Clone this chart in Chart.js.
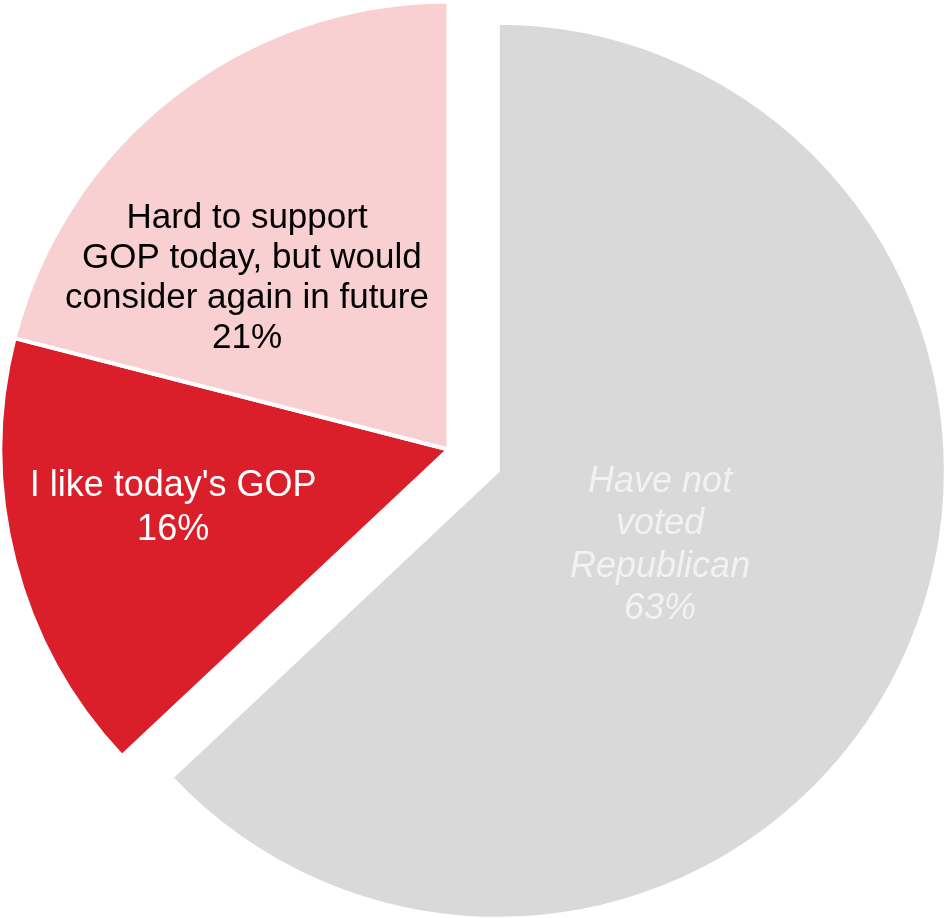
<!DOCTYPE html>
<html>
<head>
<meta charset="utf-8">
<script src="https://cdn.jsdelivr.net/npm/chart.js@4/dist/chart.umd.min.js"></script>
<style>
  html, body { margin: 0; padding: 0; background: #ffffff; }
  #wrap { width: 949px; height: 918px; position: relative; }
</style>
</head>
<body>
<div id="wrap"><canvas id="c" width="949" height="918"></canvas></div>
<script>
// ---- data ----
const categories = [
  "Have not voted Republican",
  "I like today's GOP",
  "Hard to support GOP today, but would consider again in future"
];
const shares = [63, 16, 21];
const labelLines = [
  ["Have not", "voted", "Republican"],
  ["I like today's GOP"],
  ["Hard to support", " GOP today, but would", "consider again in future"]
];

// ---- styles / layout (not data) ----
const sliceColors = ["#D9D9D9", "#DA1F2A", "#F8D0D2"];
const sliceOffsets = [215, 0, 0];          // Chart.js translates by offset/4
const labelStyle = [
  { color: "#F2F2F2", italic: true,  size: 36, lh: 42.5, ratio: 0.396, shift: 0.45 },
  { color: "#FFFFFF", italic: false, size: 36, lh: 43.5, ratio: 0.627, shift: 3.0 },
  { color: "#000000", italic: false, size: 35, lh: 40,   ratio: 0.595, shift: -11.3 }
];

// keep the exploded slice the same size and true angles as the others
const keepRadiusPlugin = {
  id: 'keepRadius',
  afterDatasetUpdate(chart, args) {
    const meta = args.meta;
    meta.data.forEach(arc => {
      const off = (arc.options.offset || 0) / 4;
      if (off > 0) {
        const fix = 1 - Math.sin(Math.min(Math.PI, arc.circumference || 0));
        const radOff = off * fix;
        arc.outerRadius = arc.outerRadius - radOff;
        const R = arc.outerRadius + radOff;
        const d = radOff / (Math.PI * R) / 2;
        arc.startAngle -= d;
        arc.endAngle += d;
      }
    });
  }
};

const sliceLabelPlugin = {
  id: 'sliceLabels',
  afterDatasetsDraw(chart) {
    const ctx = chart.ctx;
    const meta = chart.getDatasetMeta(0);
    meta.data.forEach((arc, i) => {
      const st = labelStyle[i];
      const mid = (arc.startAngle + arc.endAngle) / 2;
      const off = (arc.options.offset || 0) / 4;
      const fix = 1 - Math.sin(Math.min(Math.PI, arc.circumference || 0));
      const cx = arc.x + Math.cos(mid) * off;
      const cy = arc.y + Math.sin(mid) * off;
      const r = arc.outerRadius + off * fix;
      const ang = mid + st.shift * Math.PI / 180;
      const ax = cx + Math.cos(ang) * r * st.ratio;
      const ay = cy + Math.sin(ang) * r * st.ratio;
      const lines = labelLines[i].concat([shares[i] + "%"]);
      const capH = 0.716 * st.size;
      const n = lines.length;
      const firstBase = ay - ((n - 1) * st.lh + capH) / 2 + capH;
      ctx.save();
      ctx.font = (st.italic ? "italic " : "") + st.size + "px 'Liberation Sans', Arial, sans-serif";
      ctx.fillStyle = st.color;
      ctx.textAlign = "center";
      ctx.textBaseline = "alphabetic";
      lines.forEach((t, k) => ctx.fillText(t, ax, firstBase + k * st.lh));
      ctx.restore();
    });
  }
};

new Chart(document.getElementById('c'), {
  type: 'pie',
  data: {
    labels: categories,
    datasets: [{
      data: shares,
      backgroundColor: sliceColors,
      borderColor: "#FFFFFF",
      borderWidth: 4,
      offset: sliceOffsets,
      radius: 448,
      clip: false
    }]
  },
  options: {
    responsive: false,
    animation: false,
    events: [],
    layout: { padding: { left: 0, top: 0, right: 52, bottom: 19 } },
    plugins: { legend: { display: false }, tooltip: { enabled: false } }
  },
  plugins: [keepRadiusPlugin, sliceLabelPlugin]
});
</script>
</body>
</html>
